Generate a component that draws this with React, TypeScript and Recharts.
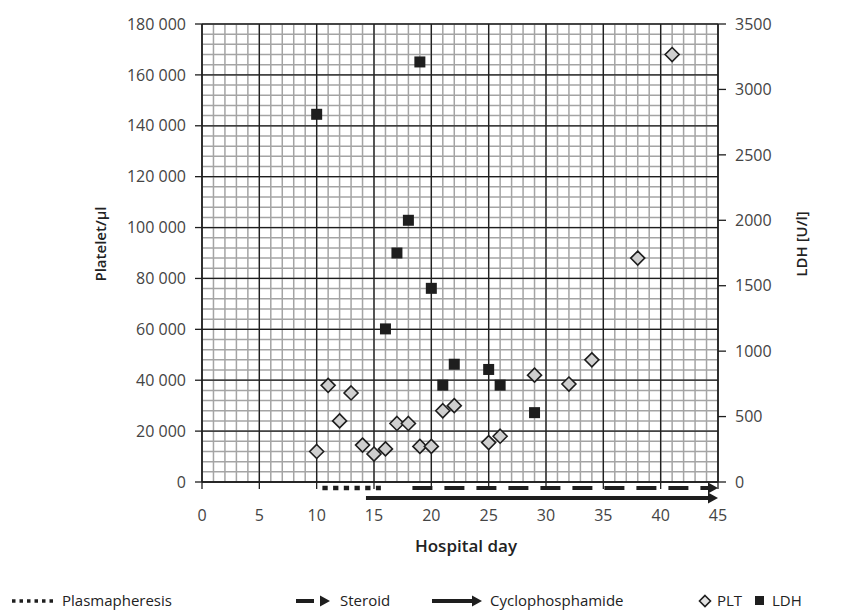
import { ComposedChart, Scatter, XAxis, YAxis, ReferenceLine } from 'recharts'

// platelet count (left axis)
const PLT_DAYS = [10, 11, 12, 13, 14, 15, 16, 17, 18, 19, 20, 21, 22, 25, 26, 29, 32, 34, 38, 41]
const PLT_VALUES = [
  12000, 38000, 24000, 35000, 14500, 11000, 13000, 23000, 23000, 14000,
  14000, 28000, 30000, 15500, 18000, 42000, 38500, 48000, 88000, 168000,
]

// LDH (right axis)
const LDH_DAYS = [10, 16, 17, 18, 19, 20, 21, 22, 25, 26, 29]
const LDH_VALUES = [2810, 1170, 1750, 2000, 3210, 1480, 740, 900, 860, 740, 530]

// treatment periods, in hospital days
const TREATMENTS = ['Plasmapheresis', 'Steroid', 'Cyclophosphamide']
const TREATMENT_START = [10.5, 18.35, 14.3]
const TREATMENT_END = [15.6, 45, 45]

const X_TICKS = [0, 5, 10, 15, 20, 25, 30, 35, 40, 45]
const PLT_TICKS = [0, 20000, 40000, 60000, 80000, 100000, 120000, 140000, 160000, 180000]
const LDH_TICKS = [0, 500, 1000, 1500, 2000, 2500, 3000, 3500]

const pltData = PLT_DAYS.map((day, i) => ({ day, value: PLT_VALUES[i] }))
const ldhData = LDH_DAYS.map((day, i) => ({ day, value: LDH_VALUES[i] }))

// grid: one minor line per day and per 4000 platelets, major every 5 days / 20 000
const minorX = Array.from({ length: 46 }, (_, i) => i)
const minorY = Array.from({ length: 46 }, (_, i) => i * 4000)

const FONT = '"Open Sans", sans-serif'
const INK = '#1e1e1e'
const tickStyle = { fontFamily: FONT, fontSize: 16, fill: '#444' }

const fmtThousands = (v: number) => String(v).replace(/\B(?=(\d{3})+(?!\d))/g, ' ')

function Diamond({ cx, cy, r = 7, fill = '#cfcfcf' }: any) {
  if (cx == null || cy == null) return null
  return (
    <polygon
      points={`${cx},${cy - r} ${cx + r},${cy} ${cx},${cy + r} ${cx - r},${cy}`}
      fill={fill}
      stroke={INK}
      strokeWidth={1.6}
    />
  )
}

function Square({ cx, cy }: any) {
  if (cx == null || cy == null) return null
  return <rect x={cx - 5.5} y={cy - 5.5} width={11} height={11} fill={INK} />
}

function arrowHead(x: number, y: number) {
  return <polygon points={`${x - 10},${y - 5.5} ${x},${y} ${x - 10},${y + 5.5}`} fill={INK} />
}

// drawn below the x axis, one row per kind
function TreatmentShape(props: any) {
  const { x1, x2, y1, kind } = props
  if (kind === 'Plasmapheresis') {
    const y = y1 + 6
    return <line x1={x1} x2={x2} y1={y} y2={y} stroke={INK} strokeWidth={4.7} strokeDasharray="5.3 5.4" />
  }
  if (kind === 'Steroid') {
    const y = y1 + 6
    return (
      <g>
        <line x1={x1} x2={x2 - 8} y1={y} y2={y} stroke={INK} strokeWidth={4} strokeDasharray="20 12" />
        {arrowHead(x2, y)}
      </g>
    )
  }
  const y = y1 + 16
  return (
    <g>
      <line x1={x1} x2={x2 - 8} y1={y} y2={y} stroke={INK} strokeWidth={4} />
      {arrowHead(x2, y)}
    </g>
  )
}

function Overlay() {
  const legendText = { fontFamily: FONT, fontSize: 15, fill: '#222' }
  return (
    <svg width={841} height={612} style={{ position: 'absolute', left: 0, top: 0, pointerEvents: 'none' }}>
      <text
        x={100}
        y={244}
        transform="rotate(-90 100 244)"
        textAnchor="middle"
        dominantBaseline="central"
        style={{ fontFamily: FONT, fontSize: 15, fontWeight: 600, fill: '#222' }}
      >
        Platelet/μl
      </text>
      <text
        x={801}
        y={244}
        transform="rotate(-90 801 244)"
        textAnchor="middle"
        dominantBaseline="central"
        style={{ fontFamily: FONT, fontSize: 15, fontWeight: 600, fill: '#222' }}
      >
        LDH [U/l]
      </text>
      <text
        x={466}
        y={545}
        textAnchor="middle"
        dominantBaseline="central"
        style={{ fontFamily: FONT, fontSize: 17, fontWeight: 600, fill: '#222' }}
      >
        Hospital day
      </text>

      {/* legend */}
      <line x1={12} x2={55} y1={601} y2={601} stroke={INK} strokeWidth={3.5} strokeDasharray="3.5 4" />
      <text x={62} y={606} style={legendText}>Plasmapheresis</text>

      <line x1={296} x2={314} y1={601} y2={601} stroke={INK} strokeWidth={4} />
      {arrowHead(330, 601)}
      <text x={340} y={606} style={legendText}>Steroid</text>

      <line x1={432} x2={474} y1={601} y2={601} stroke={INK} strokeWidth={4} />
      {arrowHead(482, 601)}
      <text x={490} y={606} style={legendText}>Cyclophosphamide</text>

      <Diamond cx={705} cy={601} r={5.5} fill="#e2e2e2" />
      <text x={717} y={606} style={legendText}>PLT</text>
      <rect x={755} y={596} width={9} height={9} fill={INK} />
      <text x={772} y={606} style={legendText}>LDH</text>
    </svg>
  )
}

export default function App() {
  return (
    <div style={{ position: 'absolute', left: 0, top: 0, width: 841, height: 612, background: '#fff' }}>
      <ComposedChart width={841} height={612} margin={{ top: 24, right: 43, bottom: 90, left: 122 }}>
        <XAxis
          xAxisId="x"
          type="number"
          dataKey="day"
          domain={[0, 45]}
          ticks={X_TICKS}
          interval={0}
          height={40}
          tick={tickStyle}
          tickSize={7}
          tickMargin={21}
          axisLine={{ stroke: INK, strokeWidth: 1.3 }}
          tickLine={{ stroke: INK, strokeWidth: 1.3 }}
        />
        <YAxis
          yAxisId="left"
          type="number"
          domain={[0, 180000]}
          ticks={PLT_TICKS}
          interval={0}
          width={80}
          tick={tickStyle}
          tickFormatter={fmtThousands}
          tickSize={7}
          tickMargin={9}
          axisLine={{ stroke: INK, strokeWidth: 1.3 }}
          tickLine={{ stroke: INK, strokeWidth: 1.3 }}
        />
        <YAxis
          yAxisId="right"
          orientation="right"
          type="number"
          domain={[0, 3500]}
          ticks={LDH_TICKS}
          interval={0}
          width={80}
          tick={tickStyle}
          tickSize={8}
          tickMargin={9}
          axisLine={{ stroke: INK, strokeWidth: 1.3 }}
          tickLine={{ stroke: INK, strokeWidth: 1.3 }}
        />

        {minorX.map((d) => (
          <ReferenceLine key={`mx-${d}`} xAxisId="x" yAxisId="left" x={d} stroke="#a4a4a4" strokeWidth={1.5} zIndex={-100} />
        ))}
        {minorY.map((v) => (
          <ReferenceLine key={`my-${v}`} xAxisId="x" yAxisId="left" y={v} stroke="#a4a4a4" strokeWidth={1.5} zIndex={-100} />
        ))}
        {X_TICKS.map((d) => (
          <ReferenceLine key={`Mx-${d}`} xAxisId="x" yAxisId="left" x={d} stroke={INK} strokeWidth={1.3} zIndex={-90} />
        ))}
        {PLT_TICKS.map((v) => (
          <ReferenceLine key={`My-${v}`} xAxisId="x" yAxisId="left" y={v} stroke={INK} strokeWidth={1.3} zIndex={-90} />
        ))}

        {TREATMENTS.map((name, i) => (
          <ReferenceLine
            key={name}
            xAxisId="x"
            yAxisId="left"
            ifOverflow="visible"
            segment={[
              { x: TREATMENT_START[i], y: 0 },
              { x: TREATMENT_END[i], y: 0 },
            ]}
            shape={(p: any) => <TreatmentShape {...p} kind={name} />}
          />
        ))}

        <Scatter
          name="PLT"
          data={pltData}
          xAxisId="x"
          yAxisId="left"
          dataKey="value"
          shape={<Diamond />}
          isAnimationActive={false}
        />
        <Scatter
          name="LDH"
          data={ldhData}
          xAxisId="x"
          yAxisId="right"
          dataKey="value"
          shape={<Square />}
          isAnimationActive={false}
        />
      </ComposedChart>
      <Overlay />
    </div>
  )
}
